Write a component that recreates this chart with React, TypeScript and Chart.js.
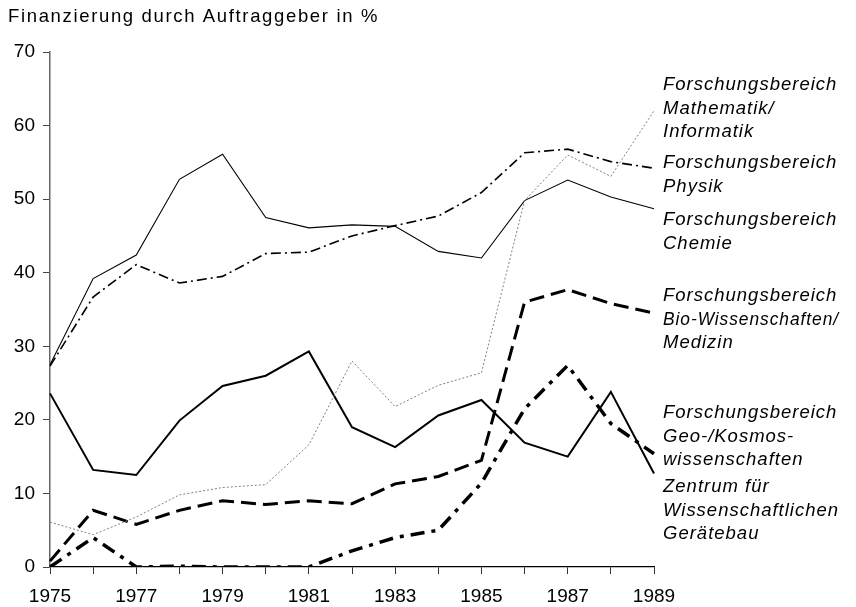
import React, { useEffect, useRef } from 'react';
import { Chart, registerables } from 'chart.js';

Chart.register(...registerables);

const years = ['1975', '1976', '1977', '1978', '1979', '1980', '1981', '1982', '1983', '1984', '1985', '1986', '1987', '1988', '1989'];

const mathematik = [6.1, 4.4, 6.8, 9.8, 10.8, 11.2, 16.6, 28.0, 21.8, 24.7, 26.4, 49.8, 56.0, 53.1, 62.0];
const physik = [27.3, 36.7, 41.1, 38.6, 39.5, 42.6, 42.8, 45.0, 46.4, 47.7, 50.9, 56.3, 56.8, 55.1, 54.2];
const chemie = [27.5, 39.2, 42.4, 52.7, 56.1, 47.5, 46.1, 46.5, 46.3, 42.9, 42.0, 49.8, 52.6, 50.3, 48.7];
const bio = [0.8, 7.7, 5.8, 7.7, 9.0, 8.5, 9.0, 8.6, 11.3, 12.3, 14.5, 36.0, 37.7, 35.8, 34.5];
const geo = [23.6, 13.2, 12.5, 19.9, 24.6, 26.0, 29.3, 19.0, 16.3, 20.6, 22.7, 16.9, 15.0, 23.8, 12.7];
const zentrum = [0, 4.0, 0, 0.1, 0, 0, 0, 2.2, 4.0, 5.0, 11.4, 21.5, 27.4, 19.5, 15.4];

const yMin = 0;
const yMax = 70;
const yStep = 10;

const titleText = 'Finanzierung durch Auftraggeber in %';

const labelMath = ['Forschungsbereich', 'Mathematik/', 'Informatik'];
const labelPhysik = ['Forschungsbereich', 'Physik'];
const labelChemie = ['Forschungsbereich', 'Chemie'];
const labelBio = ['Forschungsbereich', 'Bio-Wissenschaften/', 'Medizin'];
const labelGeo = ['Forschungsbereich', 'Geo-/Kosmos-', 'wissenschaften'];
const labelZentrum = ['Zentrum für', 'Wissenschaftlichen', 'Gerätebau'];

const FONT = '"Liberation Sans", Arial, Helvetica, sans-serif';

const labelBlocks: { lines: string[]; y: number }[] = [
  { lines: labelMath, y: 90 },
  { lines: labelPhysik, y: 168 },
  { lines: labelChemie, y: 225 },
  { lines: labelBio, y: 301 },
  { lines: labelGeo, y: 418 },
  { lines: labelZentrum, y: 492 },
];

const textPlugin = {
  id: 'textPlugin',
  afterDraw(chart: any) {
    const ctx = chart.ctx as CanvasRenderingContext2D;
    ctx.save();
    ctx.fillStyle = '#000';
    ctx.textAlign = 'left';
    ctx.textBaseline = 'alphabetic';
    ctx.font = `18.5px ${FONT}`;
    (ctx as any).letterSpacing = '1.65px';
    ctx.fillText(titleText, 8, 22);
    ctx.font = `italic 18.5px ${FONT}`;
    (ctx as any).letterSpacing = '1px';
    const x = chart.chartArea.right + 9;
    labelBlocks.forEach((b) => {
      b.lines.forEach((line, i) => {
        ctx.fillText(line, x, b.y + i * 23.5, 176);
      });
    });
    (ctx as any).letterSpacing = '0px';
    ctx.restore();
  },
};

export default function App() {
  const canvasRef = useRef<HTMLCanvasElement>(null);

  useEffect(() => {
    if (!canvasRef.current) return;
    const chart = new Chart(canvasRef.current, {
      type: 'line',
      data: {
        labels: years,
        datasets: [
          {
            label: 'Mathematik/Informatik',
            data: mathematik,
            borderColor: '#808080',
            borderWidth: 1,
            borderDash: [2, 2],
          },
          {
            label: 'Physik',
            data: physik,
            borderColor: '#000',
            borderWidth: 1.6,
            borderDash: [10, 4, 2, 4],
          },
          {
            label: 'Chemie',
            data: chemie,
            borderColor: '#000',
            borderWidth: 1.1,
          },
          {
            label: 'Bio-Wissenschaften/Medizin',
            data: bio,
            borderColor: '#000',
            borderWidth: 3,
            borderDash: [15, 7],
          },
          {
            label: 'Geo-/Kosmoswissenschaften',
            data: geo,
            borderColor: '#000',
            borderWidth: 2,
          },
          {
            label: 'Zentrum für Wissenschaftlichen Gerätebau',
            data: zentrum,
            borderColor: '#000',
            borderWidth: 3.5,
            borderDash: [14, 7, 4, 7],
          },
        ].map((d) => ({
          ...d,
          fill: false,
          pointRadius: 0,
          pointHoverRadius: 0,
          tension: 0,
          borderCapStyle: 'butt' as const,
          borderJoinStyle: 'miter' as const,
        })),
      },
      options: {
        responsive: false,
        animation: false,
        events: [],
        layout: { padding: { left: 0, right: 202, top: 52, bottom: 0 } },
        plugins: {
          legend: { display: false },
          tooltip: { enabled: false },
          title: { display: false },
        },
        scales: {
          x: {
            type: 'category',
            offset: false,
            grid: {
              display: true,
              drawOnChartArea: false,
              drawTicks: true,
              tickLength: 7,
              tickColor: '#333',
              tickWidth: 1,
            },
            border: { display: true, color: '#000', width: 1.3 },
            ticks: {
              autoSkip: false,
              maxRotation: 0,
              minRotation: 0,
              padding: 11,
              color: '#000',
              font: { family: FONT, size: 19 },
              callback: (_v: any, i: number) => (i % 2 === 0 ? years[i] : ''),
            },
            afterFit: (scale: any) => {
              scale.height = 40;
            },
          },
          y: {
            min: yMin,
            max: yMax,
            grid: {
              display: true,
              drawOnChartArea: false,
              drawTicks: true,
              tickLength: 7,
              tickColor: '#444',
              tickWidth: 1,
            },
            border: { display: true, color: '#666', width: 1.5 },
            ticks: {
              stepSize: yStep,
              padding: 8,
              color: '#000',
              font: { family: FONT, size: 19 },
            },
            afterFit: (scale: any) => {
              scale.width = 50;
            },
          },
        },
      },
      plugins: [textPlugin],
    });
    return () => chart.destroy();
  }, []);

  return (
    <div style={{ position: 'fixed', left: 0, top: 0, width: 856, height: 607, background: '#fff' }}>
      <canvas ref={canvasRef} width={856} height={607} style={{ display: 'block' }} />
    </div>
  );
}
